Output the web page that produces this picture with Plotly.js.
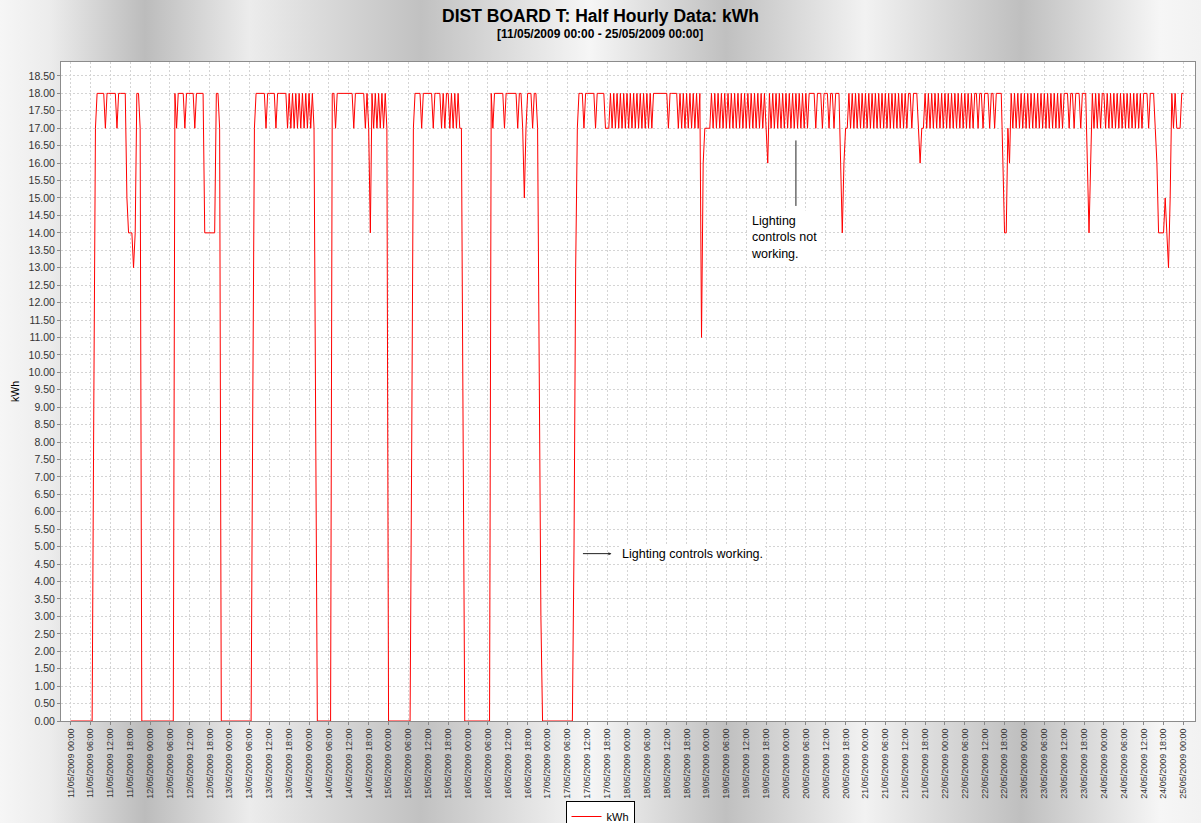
<!DOCTYPE html>
<html>
<head>
<meta charset="utf-8">
<script src="https://cdn.plot.ly/plotly-3.0.1.min.js"></script>
<style>
html,body{margin:0;padding:0;}
body{width:1201px;height:823px;overflow:hidden;
background:linear-gradient(to right,#f6f6f6 0px,#ececec 50px,#bcbcbc 145px,#ececec 250px,#c1c1c1 421px,#f6f6f6 590px,#c0c0c0 726px,#f2f2f2 865px,#bfbfbf 1021px,#f6f6f6 1160px,#f2f2f2 1201px);}
#chart{width:1201px;height:851px;}
</style>
</head>
<body>
<div id="chart"></div>
<script>
// Half-hourly kWh readings, one array per day (48 values: 00:00 ... 23:30)
const startDate = '2009-05-11 00:00';
const endDate = '2009-05-25 00:00';
const d11 = [0,0,0,0,0,0,0,0,0,0,0,0,0,0,9,17,18,18,18,18,18,17,18,18,18,18,18,18,17,18,18,18,18,18,15,14,14,14,13,14,18,18,17,0,0,0,0,0];
const d12 = [0,0,0,0,0,0,0,0,0,0,0,0,0,0,0,18,17,18,18,18,18,17,18,18,18,18,18,17,18,18,18,18,18,14,14,14,14,14,14,14,18,18,17,0,0,0,0,0];
const d13 = [0,0,0,0,0,0,0,0,0,0,0,0,0,0,9,17,18,18,18,18,18,18,17,18,18,18,18,18,17,18,18,18,18,18,18,17,18,17,18,17,18,17,18,17,18,17,18,17];
const d14 = [18,17,18,17,8,0,0,0,0,0,0,0,0,0,18,18,17,18,18,18,18,18,18,18,18,18,18,17,18,18,18,18,18,18,17,18,17,14,18,17,18,17,18,17,18,17,18,17];
const d15 = [0,0,0,0,0,0,0,0,0,0,0,0,0,0,8,17,18,18,18,18,17,18,18,18,18,18,18,17,18,18,18,18,17,18,17,18,18,17,18,17,18,17,18,17,17,9,0,0];
const d16 = [0,0,0,0,0,0,0,0,0,0,0,0,0,0,18,17,18,18,18,18,18,18,17,18,18,18,18,18,18,18,17,18,18,17,15,17,18,18,18,17,18,18,17,10,3,0,0,0];
const d17 = [0,0,0,0,0,0,0,0,0,0,0,0,0,0,0,0,5,13,17,18,18,18,17,18,18,18,18,18,18,17,18,18,18,18,18,17,17,17,18,17,18,17,18,17,18,17,18,17];
const d18 = [18,17,18,17,18,17,18,17,18,17,18,17,18,17,18,17,18,18,18,18,18,18,18,18,18,17,18,18,18,18,18,17,18,17,18,17,18,17,18,17,18,17,18,17,18,11,16,17];
const d19 = [17,17,17,18,17,18,17,18,17,18,17,18,17,18,17,18,17,18,17,18,17,18,17,18,17,18,17,18,17,18,17,18,17,18,17,18,17,16,18,17,18,17,18,17,18,17,18,17];
const d20 = [18,17,18,17,18,17,18,17,18,17,18,17,18,17,18,18,18,18,17,18,18,18,17,18,18,18,17,18,18,17,18,18,18,16,14,16,17,17,18,17,18,17,18,17,18,17,18,17];
const d21 = [18,17,18,17,18,17,18,17,18,17,18,17,18,17,18,17,18,17,18,17,18,17,18,17,18,17,18,18,17,18,18,18,17,16,17,17,18,17,18,17,18,17,18,17,18,17,18,17];
const d22 = [18,17,18,17,18,17,18,17,18,17,18,17,18,17,18,17,18,17,18,18,17,18,18,17,18,18,18,17,18,18,17,18,18,18,18,16,14,14,17,16,18,17,18,17,18,17,18,17];
const d23 = [18,17,18,17,18,17,18,17,18,17,18,17,18,17,18,17,18,17,18,17,18,17,18,17,18,18,18,17,18,18,17,18,18,18,17,18,18,18,16,14,16,18,17,18,17,18,17,18];
const d24 = [18,17,18,17,18,17,18,17,18,17,18,17,18,17,18,17,18,17,18,17,18,17,18,17,18,18,18,17,18,18,18,17,16,14,14,14,14,15,14,13,15,18,17,18,17,17,17,18];
const d25 = [18];

const kwh = [].concat(d11,d12,d13,d14,d15,d16,d17,d18,d19,d20,d21,d22,d23,d24,d25);

function pad(n){return (n<10?'0':'')+n;}
function stamp(ms){const d=new Date(ms);return d.getUTCFullYear()+'-'+pad(d.getUTCMonth()+1)+'-'+pad(d.getUTCDate())+' '+pad(d.getUTCHours())+':'+pad(d.getUTCMinutes());}
const t0 = Date.UTC(2009,4,11,0,0);
const halfHour = 30*60*1000;
const times = kwh.map((v,i)=>stamp(t0+i*halfHour));

const font = 'Liberation Sans, Arial, sans-serif';

const trace = {
  x: times, y: kwh, type: 'scatter', mode: 'lines', name: 'kWh',
  line: {color: '#ff0000', width: 1}
};

const layout = {
  width: 1201, height: 851,
  paper_bgcolor: 'rgba(0,0,0,0)',
  plot_bgcolor: '#ffffff',
  margin: {l: 61, r: 6, t: 62, b: 130, pad: 0, autoexpand: false},
  title: {text: '<b>DIST BOARD T: Half Hourly Data: kWh</b>', font: {family: font, size: 17.5, color: '#000'},
          x: (600.5)/1201, xref: 'container', xanchor: 'center', y: 1-16/851, yref: 'container', yanchor: 'middle'},
  showlegend: true,
  legend: {orientation: 'h', x: (600-61)/1134, xanchor: 'center', y: -(801-721)/659, yref: 'paper', yanchor: 'top',
           bgcolor: '#ffffff', bordercolor: '#000000', borderwidth: 1, font: {family: font, size: 11, color: '#000'},
           itemwidth: 30},
  xaxis: {
    type: 'date',
    range: ['2009-05-10 21:06', '2009-05-25 03:30'],
    tick0: startDate, dtick: 6*3600*1000, tickformat: '%d/%m/%Y %H:%M', tickangle: -90,
    tickfont: {family: font, size: 9, color: '#333'},
    ticks: 'outside', ticklen: 3, tickcolor: '#888',
    showgrid: true, gridcolor: '#d4d4d4', griddash: '2px,2px', gridwidth: 1,
    showline: true, linecolor: '#8c8c8c', linewidth: 1, mirror: true,
    zeroline: false
  },
  yaxis: {
    range: [0, 18.9], dtick: 0.5, tick0: 0, tickformat: '.2f',
    tickfont: {family: font, size: 10.5, color: '#333'},
    ticks: 'outside', ticklen: 3, tickcolor: '#888',
    showgrid: true, gridcolor: '#d4d4d4', griddash: '2px,2px', gridwidth: 1,
    showline: true, linecolor: '#8c8c8c', linewidth: 1, mirror: true,
    zeroline: false,
    title: {text: 'kWh', font: {family: font, size: 10.5, color: '#000'}, standoff: 6}
  },
  annotations: [
    {xref: 'paper', yref: 'paper', x: (600-61)/1134, y: (721-34)/659, xanchor: 'center', yanchor: 'middle',
     text: '<b>[' + '11/05/2009 00:00 - 25/05/2009 00:00' + ']</b>', showarrow: false,
     font: {family: font, size: 12, color: '#000'}},
    {x: '2009-05-17 21:50', y: 4.8, xanchor: 'left', yanchor: 'middle', text: 'Lighting controls working.',
     showarrow: false, font: {family: font, size: 12.5, color: '#000'}, bgcolor: '#ffffff'},
    {x: '2009-05-17 19:18', y: 4.8, text: '', showarrow: true, ax: -30, ay: 0, arrowhead: 2, arrowsize: 0.6,
     arrowwidth: 1, arrowcolor: '#222'},
    {x: '2009-05-19 12:15', y: 13.87, xanchor: 'left', yanchor: 'middle', align: 'left',
     text: 'Lighting<br>controls not<br>working.', showarrow: false,
     font: {family: font, size: 12.5, color: '#000'}, bgcolor: '#ffffff', borderpad: 3},
    {x: '2009-05-20 03:00', y: 16.65, text: '', showarrow: true, ax: 0, ay: 67, arrowhead: 0,
     arrowwidth: 1, arrowcolor: '#222'}
  ]
};

Plotly.newPlot('chart', [trace], layout, {displayModeBar: false, staticPlot: true});
</script>
</body>
</html>
